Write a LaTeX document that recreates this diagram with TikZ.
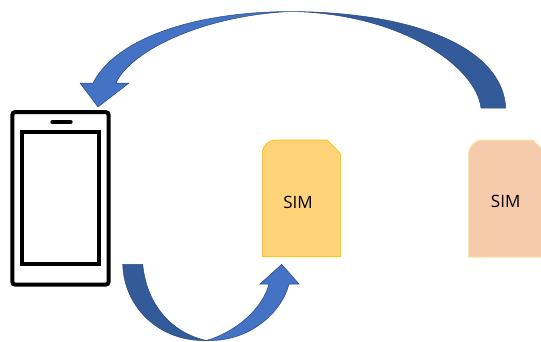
\documentclass[tikz,border=0pt]{standalone}
\usepackage{fontspec}
\setmainfont{Open Sans}
\definecolor{arrowlight}{HTML}{4472C4}
\definecolor{arrowdark}{HTML}{335A99}
\definecolor{arrowline}{HTML}{2A4A7F}
\definecolor{simyellow}{HTML}{FFD37A}
\definecolor{simyellowline}{HTML}{FFC61A}
\definecolor{simpeach}{HTML}{F6CBAC}
\definecolor{simpeachline}{HTML}{FBE3A0}
\tikzset{
  x=1pt,y=-1pt,
  phoneline/.style={draw=black,line width=4pt,fill=white},
  headlight/.style={fill=arrowlight,draw=arrowline,line width=0.5pt,line join=miter},
  taildark/.style={fill=arrowdark,draw=arrowline,line width=0.5pt,line join=miter},
  simlabel/.style={font=\fontsize{17pt}{20pt}\selectfont,text=black,inner sep=0pt}
}
\begin{document}
\begin{tikzpicture}
\useasboundingbox (0,0) rectangle (541,341);
\clip (0,0) rectangle (541,341);
% phone
\draw[phoneline,rounded corners=3pt] (12.3,112) rectangle (108.6,284.7);
\draw[phoneline,line join=miter] (22,132) rectangle (98.7,264);
\draw[black,line width=4.4pt,line cap=round] (52.5,122) -- (70.5,122);
% SIM cards
\path[fill=simyellow,draw=simyellowline,line width=1pt]
  (262.3,256.7) -- (262.3,154) .. controls (262.3,146) and (268.5,140) .. (276.3,140)
  -- (327,140) -- (340.7,154) -- (340.7,256.7) -- cycle;
\node[simlabel] (simA) at (298,202.5) {SIM};
\path[fill=simpeach,draw=simpeachline,line width=1pt]
  (468.7,257) -- (468.7,154) .. controls (468.7,146) and (475,140) .. (482.7,140)
  -- (533,140) -- (547,154) -- (547,257) -- cycle;
\node[simlabel] (simB) at (505.7,201.5) {SIM};
% top arrow
\coordinate (ta) at (290,11.5);
\path[taildark] (481,108) .. controls (476,66) and (400,13) .. (ta)
  .. controls (420,12) and (503,50) .. (505.7,108) -- cycle;
\path[headlight] (ta) .. controls (190,12) and (115,40) .. (93,83)
  -- (80,83) -- (98,107) -- (129,83) -- (116,83)
  .. controls (130,52) and (200,16) .. (ta) -- cycle;
% bottom arrow
\coordinate (ba) at (206.7,340.5);
\path[taildark] (122.7,264.3) .. controls (124,308) and (160,342) .. (ba)
  .. controls (175,334) and (147,308) .. (142.7,264.3) -- cycle;
\path[headlight] (ba) .. controls (250,342) and (282,312) .. (289,284)
  -- (299,284) -- (281.7,264.3) -- (260,284) -- (269,284)
  .. controls (262,310) and (235,332) .. (ba) -- cycle;
\end{tikzpicture}
\end{document}
